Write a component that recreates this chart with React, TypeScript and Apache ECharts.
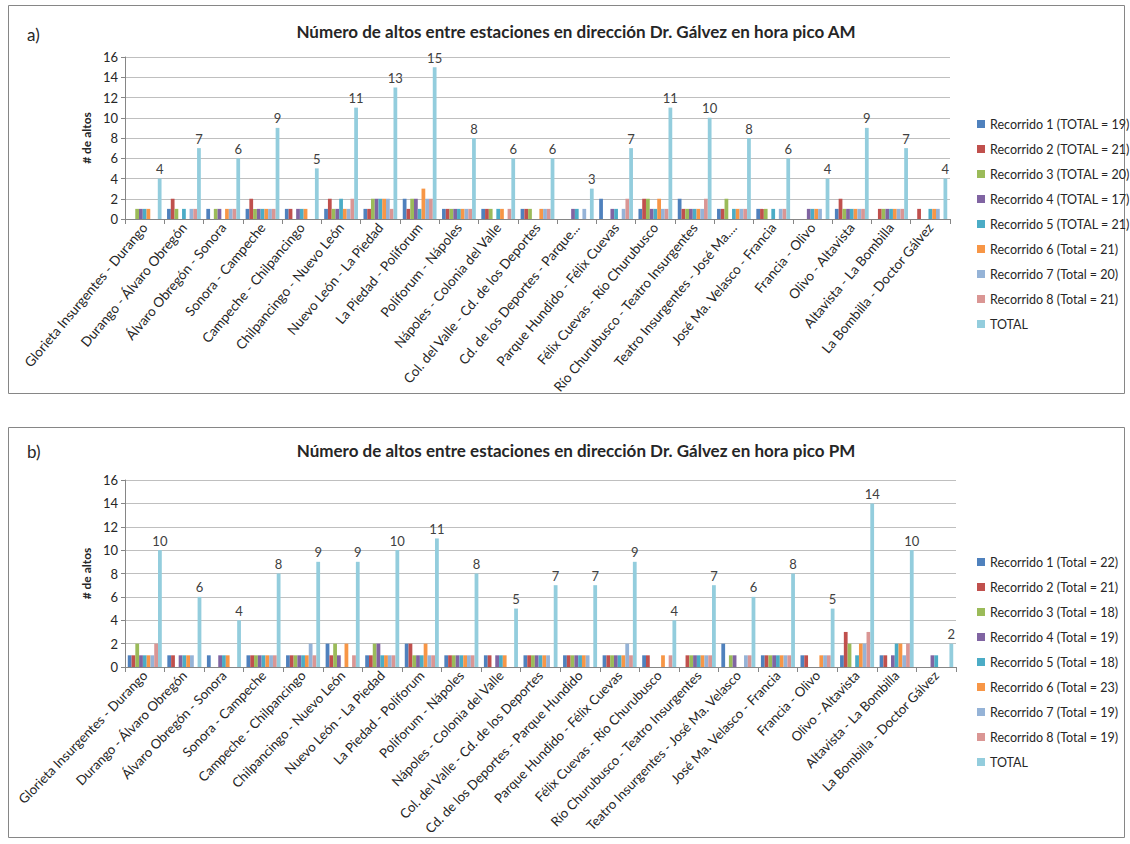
import React, { useEffect, useRef } from "react";
import * as echarts from "echarts";

const FONT = "Lato, 'Open Sans', sans-serif";

const categoriesAM = [
  "Glorieta Insurgentes - Durango",
  "Durango - Álvaro Obregón",
  "Álvaro Obregón - Sonora",
  "Sonora - Campeche",
  "Campeche - Chilpancingo",
  "Chilpancingo - Nuevo León",
  "Nuevo León - La Piedad",
  "La Piedad - Poliforum",
  "Poliforum - Nápoles",
  "Nápoles - Colonia del Valle",
  "Col. del Valle - Cd. de los Deportes",
  "Cd. de los Deportes - Parque...",
  "Parque Hundido - Félix Cuevas",
  "Félix Cuevas - Río Churubusco",
  "Río Churubusco - Teatro Insurgentes",
  "Teatro Insurgentes - José Ma....",
  "José Ma. Velasco - Francia",
  "Francia - Olivo",
  "Olivo - Altavista",
  "Altavista - La Bombilla",
  "La Bombilla - Doctor Gálvez",
];

const categoriesPM = [
  "Glorieta Insurgentes - Durango",
  "Durango - Álvaro Obregón",
  "Álvaro Obregón - Sonora",
  "Sonora - Campeche",
  "Campeche - Chilpancingo",
  "Chilpancingo - Nuevo León",
  "Nuevo León - La Piedad",
  "La Piedad - Poliforum",
  "Poliforum - Nápoles",
  "Nápoles - Colonia del Valle",
  "Col. del Valle - Cd. de los Deportes",
  "Cd. de los Deportes - Parque Hundido",
  "Parque Hundido - Félix Cuevas",
  "Félix Cuevas - Río Churubusco",
  "Río Churubusco - Teatro Insurgentes",
  "Teatro Insurgentes - José Ma. Velasco",
  "José Ma. Velasco - Francia",
  "Francia - Olivo",
  "Olivo - Altavista",
  "Altavista - La Bombilla",
  "La Bombilla - Doctor Gálvez",
];

const namesAM = [
  "Recorrido 1 (TOTAL = 19)",
  "Recorrido 2 (TOTAL = 21)",
  "Recorrido 3 (TOTAL = 20)",
  "Recorrido 4 (TOTAL = 17)",
  "Recorrido 5 (TOTAL = 21)",
  "Recorrido 6 (Total = 21)",
  "Recorrido 7 (Total = 20)",
  "Recorrido 8 (Total = 21)",
  "TOTAL",
];

const namesPM = [
  "Recorrido 1 (Total = 22)",
  "Recorrido 2 (Total = 21)",
  "Recorrido 3 (Total = 18)",
  "Recorrido 4 (Total = 19)",
  "Recorrido 5 (Total = 18)",
  "Recorrido 6 (Total = 23)",
  "Recorrido 7 (Total = 19)",
  "Recorrido 8 (Total = 19)",
  "TOTAL",
];

// AM (a)
const am1 = [0, 1, 1, 1, 1, 1, 1, 2, 1, 1, 1, 0, 2, 1, 2, 1, 1, 0, 1, 0, 0];
const am2 = [0, 2, 0, 2, 1, 2, 1, 1, 1, 1, 1, 0, 0, 2, 1, 1, 1, 0, 2, 1, 1];
const am3 = [1, 1, 1, 1, 0, 1, 2, 2, 1, 1, 1, 0, 0, 2, 1, 2, 1, 0, 1, 1, 0];
const am4 = [1, 0, 1, 1, 1, 1, 2, 2, 1, 0, 0, 1, 1, 1, 1, 0, 0, 1, 1, 1, 0];
const am5 = [1, 1, 0, 1, 1, 2, 2, 1, 1, 1, 0, 1, 1, 1, 1, 1, 1, 1, 1, 1, 1];
const am6 = [1, 0, 1, 1, 1, 1, 2, 3, 1, 1, 1, 0, 0, 2, 1, 1, 0, 1, 1, 1, 1];
const am7 = [0, 1, 1, 1, 0, 1, 2, 2, 1, 0, 1, 1, 1, 1, 1, 1, 1, 1, 1, 1, 1];
const am8 = [0, 1, 1, 1, 0, 2, 1, 2, 1, 1, 1, 0, 2, 1, 2, 1, 1, 0, 1, 1, 0];
const amTotal = [4, 7, 6, 9, 5, 11, 13, 15, 8, 6, 6, 3, 7, 11, 10, 8, 6, 4, 9, 7, 4];

// PM (b)
const pm1 = [1, 1, 1, 1, 1, 2, 1, 2, 1, 1, 1, 1, 1, 1, 0, 2, 1, 1, 1, 1, 0];
const pm2 = [1, 1, 0, 1, 1, 1, 1, 2, 1, 1, 1, 1, 1, 1, 1, 0, 1, 1, 3, 1, 0];
const pm3 = [2, 0, 0, 1, 1, 2, 2, 1, 1, 0, 1, 1, 1, 0, 1, 1, 1, 0, 2, 0, 0];
const pm4 = [1, 1, 1, 1, 1, 1, 2, 1, 1, 1, 1, 1, 1, 0, 1, 1, 1, 0, 0, 1, 1];
const pm5 = [1, 1, 1, 1, 1, 0, 1, 1, 1, 1, 1, 1, 1, 0, 1, 0, 1, 0, 1, 2, 1];
const pm6 = [1, 1, 1, 1, 1, 2, 1, 2, 1, 1, 1, 1, 1, 1, 1, 0, 1, 1, 2, 2, 0];
const pm7 = [1, 1, 0, 1, 2, 0, 1, 1, 1, 0, 1, 1, 2, 0, 1, 1, 1, 1, 2, 1, 0];
const pm8 = [2, 0, 0, 1, 1, 1, 1, 1, 1, 0, 0, 0, 1, 1, 1, 1, 1, 1, 3, 2, 0];
const pmTotal = [10, 6, 4, 8, 9, 9, 10, 11, 8, 5, 7, 7, 9, 4, 7, 6, 8, 5, 14, 10, 2];

const amSeries = [am1, am2, am3, am4, am5, am6, am7, am8, amTotal];
const pmSeries = [pm1, pm2, pm3, pm4, pm5, pm6, pm7, pm8, pmTotal];

const yTicks = [0, 2, 4, 6, 8, 10, 12, 14, 16];

const colors = [
  "#4F81BD",
  "#C0504D",
  "#9BBB59",
  "#8064A2",
  "#4BACC6",
  "#F79646",
  "#95B3D7",
  "#DA9694",
  "#93CDDD",
];

const titleAM = "Número de altos entre estaciones en dirección Dr. Gálvez en hora pico AM";
const titlePM = "Número de altos entre estaciones en dirección Dr. Gálvez en hora pico PM";

function makeSeries(names: string[], data: number[][], idx: number) {
  return data.map((d, i) => ({
    type: "bar",
    name: names[i],
    xAxisIndex: idx,
    yAxisIndex: idx,
    data: d,
    barGap: "0%",
    barCategoryGap: "14%",
    itemStyle: { color: colors[i] },
    label:
      i === 8
        ? {
            show: true,
            position: "top",
            distance: 3,
            fontFamily: FONT,
            fontSize: 13,
            color: "#404040",
          }
        : { show: false },
    emphasis: { disabled: true },
  }));
}

function xAxis(cats: string[], idx: number, rotate: number, fontSize: number) {
  return {
    type: "category",
    gridIndex: idx,
    data: cats,
    axisLine: { show: true, lineStyle: { color: "#868686" } },
    axisTick: { show: true, length: 5, interval: 0, lineStyle: { color: "#868686" } },
    axisLabel: {
      interval: 0,
      rotate,
      margin: 6,
      fontFamily: FONT,
      fontSize,
      color: "#262626",
    },
  };
}

function yAxis(idx: number) {
  return {
    type: "value",
    gridIndex: idx,
    min: yTicks[0],
    max: yTicks[yTicks.length - 1],
    interval: yTicks[1] - yTicks[0],
    name: "# de altos",
    nameLocation: "middle",
    nameRotate: 90,
    nameGap: 33,
    nameTextStyle: { fontFamily: FONT, fontSize: 12, fontWeight: "bold", color: "#262626" },
    axisLine: { show: true, lineStyle: { color: "#868686" } },
    axisTick: { show: true, length: 4, lineStyle: { color: "#868686" } },
    axisLabel: { fontFamily: FONT, fontSize: 13, color: "#262626", margin: 7 },
    splitLine: { show: true, lineStyle: { color: "#BFBFBF" } },
  };
}

function legend(names: string[], top: number) {
  return {
    orient: "vertical",
    left: 972,
    top,
    itemWidth: 8,
    itemHeight: 8,
    itemGap: 9,
    icon: "rect",
    selectedMode: false,
    data: names,
    textStyle: { fontFamily: FONT, fontSize: 12.5, lineHeight: 16, color: "#262626" },
  };
}

export default function App() {
  const ref = useRef<HTMLDivElement>(null);
  useEffect(() => {
    if (!ref.current) return;
    const chart = echarts.init(ref.current, null, { renderer: "svg" });
    chart.setOption({
      animation: false,
      backgroundColor: "#ffffff",
      grid: [
        { left: 125, top: 57, width: 825, height: 162 },
        { left: 125, top: 480, width: 831, height: 187 },
      ],
      xAxis: [xAxis(categoriesAM, 0, 50, 13.5), xAxis(categoriesPM, 1, 46, 13.2)],
      yAxis: [yAxis(0), yAxis(1)],
      legend: [legend(namesAM, 111), legend(namesPM, 549)],
      series: [...makeSeries(namesAM, amSeries, 0), ...makeSeries(namesPM, pmSeries, 1)],
      graphic: [
        {
          type: "rect",
          silent: true,
          shape: { x: 8.5, y: 5.5, width: 1116, height: 388 },
          style: { fill: "none", stroke: "#868686", lineWidth: 1 },
        },
        {
          type: "rect",
          silent: true,
          shape: { x: 8.5, y: 427.5, width: 1116, height: 410 },
          style: { fill: "none", stroke: "#868686", lineWidth: 1 },
        },
        {
          type: "text",
          x: 27,
          y: 34,
          style: { text: "a)", font: `17px ${FONT}`, fill: "#262626", textVerticalAlign: "middle" },
        },
        {
          type: "text",
          x: 27,
          y: 451,
          style: { text: "b)", font: `17px ${FONT}`, fill: "#262626", textVerticalAlign: "middle" },
        },
        {
          type: "text",
          x: 576,
          y: 31,
          style: {
            text: titleAM,
            font: `bold 17px ${FONT}`,
            fill: "#262626",
            textAlign: "center",
            textVerticalAlign: "middle",
          },
        },
        {
          type: "text",
          x: 576,
          y: 450,
          style: {
            text: titlePM,
            font: `bold 17px ${FONT}`,
            fill: "#262626",
            textAlign: "center",
            textVerticalAlign: "middle",
          },
        },
      ],
    });
    return () => chart.dispose();
  }, []);
  return (
    <div
      ref={ref}
      style={{ position: "absolute", left: 0, top: 0, width: 1130, height: 844, background: "#fff" }}
    />
  );
}
